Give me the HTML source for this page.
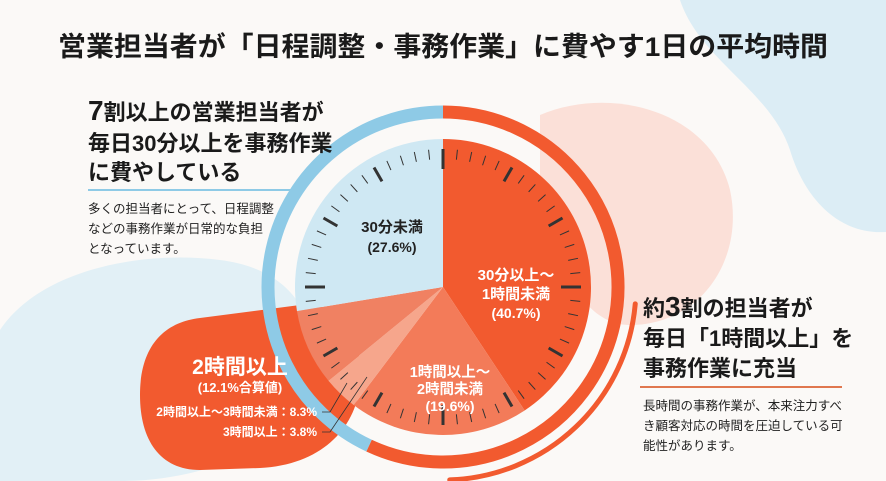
<!DOCTYPE html>
<html><head><meta charset="utf-8">
<style>
html,body{margin:0;padding:0;background:#fbf9f7;}
svg{display:block;font-family:"Liberation Sans","Noto Sans CJK JP",sans-serif;}
</style></head>
<body>
<svg id="s" width="886" height="481" viewBox="0 0 886 481" xmlns="http://www.w3.org/2000/svg">
<rect width="886" height="481" fill="#fbf9f7"/>
<path d="M680,0 C700,60 770,90 790,150 C805,200 840,235 886,232 L886,0 Z" fill="#dcedf5"/>
<path d="M540,115 C610,85 710,110 730,190 C745,260 700,325 630,325 C585,325 560,270 540,210 Z" fill="#fbe0d8"/>
<path d="M0,330 C40,270 140,250 220,260 C300,270 330,330 300,400 C280,450 200,481 120,481 L0,481 Z" fill="#e2f0f6"/>
<path d="M200,318 L300,305 C345,300 365,345 360,385 C355,430 320,465 260,468 L200,470 C160,470 140,440 140,395 C140,345 165,322 200,318 Z" fill="#f25a2f"/>
<g id="chart"></g>
<text x="443" y="56" font-size="27" font-weight="bold" fill="#1a1a1a" text-anchor="middle" textLength="770" lengthAdjust="spacingAndGlyphs">営業担当者が「日程調整・事務作業」に費やす1日の平均時間</text>
<g font-weight="bold" fill="#1a1a1a" font-size="22">
<text x="88" y="120"><tspan font-size="28">7</tspan>割以上の営業担当者が</text>
<text x="88" y="151">毎日30分以上を事務作業</text>
<text x="88" y="180">に費やしている</text>
</g>
<rect x="88" y="189" width="205" height="2" fill="#8ecae6"/>
<g fill="#222" font-size="12.5">
<text x="88" y="213">多くの担当者にとって、日程調整</text>
<text x="88" y="233">などの事務作業が日常的な負担</text>
<text x="88" y="253">となっています。</text>
</g>
<g font-weight="bold" fill="#1a1a1a" font-size="22">
<text x="643" y="316">約<tspan font-size="28">3</tspan>割の担当者が</text>
<text x="643" y="346">毎日「1時間以上」を</text>
<text x="643" y="376">事務作業に充当</text>
</g>
<rect x="640" y="386" width="202" height="2" fill="#e0774f"/>
<g fill="#222" font-size="12.5">
<text x="643" y="410">長時間の事務作業が、本来注力すべ</text>
<text x="643" y="430">き顧客対応の時間を圧迫している可</text>
<text x="643" y="450">能性があります。</text>
</g>
<g font-weight="bold" text-anchor="middle">
<text x="392" y="232" font-size="15" fill="#222">30分未満</text>
<text x="392" y="252" font-size="14" fill="#222">(27.6%)</text>
<text x="516" y="280" font-size="15" fill="#fff">30分以上～</text>
<text x="516" y="299" font-size="15" fill="#fff">1時間未満</text>
<text x="516" y="318" font-size="14" fill="#fff">(40.7%)</text>
<text x="450" y="377" font-size="14.5" fill="#fff">1時間以上～</text>
<text x="450" y="394" font-size="14.5" fill="#fff">2時間未満</text>
<text x="450" y="411" font-size="14" fill="#fff">(19.6%)</text>
<text x="240" y="374" font-size="21" fill="#fff">2時間以上</text>
<text x="240" y="392" font-size="13" fill="#fff">(12.1%合算値)</text>
</g>
<g font-size="12" fill="#fff" font-weight="bold" text-anchor="end">
<text x="317" y="416">2時間以上～3時間未満：8.3%</text>
<text x="317" y="436">3時間以上：3.8%</text>
</g>
<g stroke="#333" stroke-width="0.8" fill="none">
<polyline points="322,412 330,412 347,383"/>
<polyline points="322,432 330,432 367,377"/>
</g>
</svg>
<script>
(function(){
var g=document.getElementById('chart'),cx=443,cy=287,R=148,NS='http://www.w3.org/2000/svg';
function P(a,r){var t=(a-90)*Math.PI/180;return [cx+r*Math.cos(t),cy+r*Math.sin(t)];}
function add(tag,at){var e=document.createElementNS(NS,tag);for(var k in at)e.setAttribute(k,at[k]);g.appendChild(e);return e;}
function arc(a0,a1,r){var p=P(a0,r),q=P(a1,r);return 'M'+p[0]+','+p[1]+' A'+r+','+r+' 0 '+((a1-a0)>180?1:0)+' 1 '+q[0]+','+q[1];}
function wedge(a0,a1,col){var p=P(a0,R),q=P(a1,R);add('path',{d:'M'+cx+','+cy+' L'+p[0]+','+p[1]+' A'+R+','+R+' 0 '+((a1-a0)>180?1:0)+' 1 '+q[0]+','+q[1]+' Z',fill:col});}
add('path',{d:arc(0,205,175),stroke:'#f25a2f','stroke-width':13,fill:'none'});
add('path',{d:arc(205,360,175),stroke:'#8ecae6','stroke-width':13,fill:'none'});
add('path',{d:arc(95,178,193),stroke:'#f25a2f','stroke-width':5,fill:'none','stroke-linecap':'round'});
var c=0,segs=[[40.7,'#f25a2f'],[19.6,'#f37b59'],[3.8,'#f6a68c'],[8.3,'#f08162'],[27.6,'#cfe8f3']];
segs.forEach(function(s){var a=c*3.6;c+=s[0];wedge(a,c*3.6,s[1]);});
for(var i=0;i<60;i++){var a=i*6,maj=i%5==0,r1=maj?(i%15==0?118:122):128,p=P(a,R-10),q=P(a,r1);
add('line',{x1:p[0],y1:p[1],x2:q[0],y2:q[1],stroke:'#333','stroke-width':maj?3:1});}
})();
</script>
</body></html>
